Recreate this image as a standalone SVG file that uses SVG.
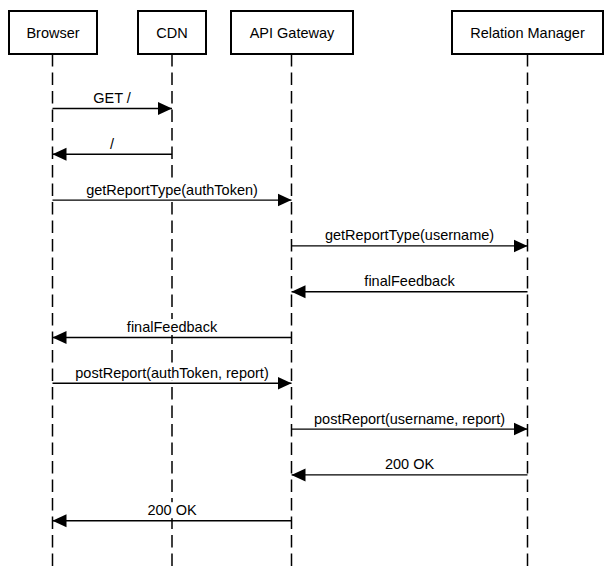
<svg xmlns="http://www.w3.org/2000/svg" width="611" height="577" viewBox="0 0 611 577">
<style>
.box{fill:#fff;stroke:#000;stroke-width:2}
.life{stroke:#000;stroke-width:1.5;stroke-dasharray:12.5,6;fill:none}
.msg{stroke:#000;stroke-width:1.4;fill:none;marker-end:url(#ah)}
.bg{fill:#fff;stroke:none}
text{font-family:"Liberation Sans",Arial,Helvetica,sans-serif;font-size:14.5px;fill:#000;text-anchor:middle}
</style>
<defs>
<marker id="ah" markerUnits="userSpaceOnUse" markerWidth="14" markerHeight="14" refX="14" refY="7" orient="auto">
<path d="M0,0.5 L14,7 L0,13.5 Z" fill="#000"/>
</marker>
</defs>
<rect width="611" height="577" fill="#fff"/>
<g id="lifelines">
<line class="life" x1="52.5" y1="54" x2="52.5" y2="572"/>
<line class="life" x1="172" y1="54" x2="172" y2="572"/>
<line class="life" x1="291.5" y1="54" x2="291.5" y2="572"/>
<line class="life" x1="527.5" y1="54" x2="527.5" y2="572"/>
</g>
<g id="browser"><rect class="box" x="9" y="11" width="88" height="43"/><text x="53" y="37.5">Browser</text></g>
<g id="cdn"><rect class="box" x="138" y="11" width="68" height="43"/><text x="172" y="37.5">CDN</text></g>
<g id="api-gateway"><rect class="box" x="231" y="11" width="122" height="43"/><text x="292" y="37.5">API Gateway</text></g>
<g id="relation-manager"><rect class="box" x="452" y="11" width="151" height="43"/><text x="527.5" y="37.5">Relation Manager</text></g>
<g id="connectors">
<line class="msg" x1="52.5" y1="108.5" x2="172" y2="108.5"/>
<text x="112" y="103">GET /</text>
<line class="msg" x1="172" y1="154.3" x2="52.5" y2="154.3"/>
<text x="112" y="148.8">/</text>
<rect class="bg" x="86" y="181.6" width="172" height="16"/>
<line class="msg" x1="52.5" y1="200.1" x2="291.5" y2="200.1"/>
<text x="172" y="194.6">getReportType(authToken)</text>
<line class="msg" x1="291.5" y1="245.9" x2="527.5" y2="245.9"/>
<text x="409.5" y="240.4">getReportType(username)</text>
<line class="msg" x1="527.5" y1="291.7" x2="291.5" y2="291.7"/>
<text x="409.5" y="286.2">finalFeedback</text>
<rect class="bg" x="125" y="319" width="94" height="16"/>
<line class="msg" x1="291.5" y1="337.5" x2="52.5" y2="337.5"/>
<text x="172" y="332">finalFeedback</text>
<rect class="bg" x="73" y="364.8" width="198" height="16"/>
<line class="msg" x1="52.5" y1="383.3" x2="291.5" y2="383.3"/>
<text x="172" y="377.8">postReport(authToken, report)</text>
<line class="msg" x1="291.5" y1="429.1" x2="527.5" y2="429.1"/>
<text x="409.5" y="423.6">postReport(username, report)</text>
<line class="msg" x1="527.5" y1="474.9" x2="291.5" y2="474.9"/>
<text x="409.5" y="469.4">200 OK</text>
<rect class="bg" x="145" y="502.2" width="54" height="16"/>
<line class="msg" x1="291.5" y1="520.7" x2="52.5" y2="520.7"/>
<text x="172" y="515.2">200 OK</text>
</g>
</svg>
